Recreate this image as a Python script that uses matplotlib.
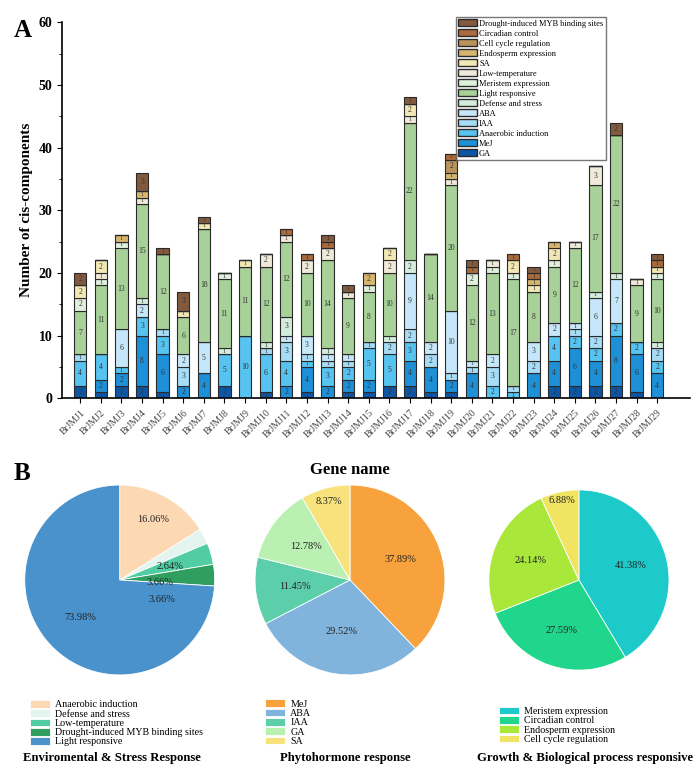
import numpy as np
import matplotlib
matplotlib.use('Agg')
import matplotlib.pyplot as plt
from matplotlib.patches import Patch

plt.rcParams['font.family'] = ['Liberation Serif', 'DejaVu Serif']

genes = ['BrJMJ%d' % i for i in range(1, 30)]

# stacked counts, bottom to top
categories = ['GA', 'MeJ', 'Anaerobic induction', 'IAA', 'ABA', 'Defense and stress',
              'Light responsive', 'Meristem expression', 'Low-temperature', 'SA',
              'Endosperm expression', 'Cell cycle regulation', 'Circadian control',
              'Drought-induced MYB binding sites']
GA        = [2,1,2,2,1,0,0,2,0,1,0,1,0,1,1,2,2,1,1,0,0,0,0,2,2,2,2,1,0]
MeJ       = [0,2,2,8,6,2,4,0,0,0,2,4,2,2,2,0,4,4,2,4,0,0,4,4,6,4,8,6,4]
Anaerobic = [4,4,1,3,3,0,0,5,10,6,4,1,3,2,5,5,3,0,0,0,2,1,0,4,2,2,2,2,2]
IAA       = [1,0,0,0,1,3,0,0,0,1,3,1,1,1,1,2,2,2,1,1,3,1,2,0,1,2,0,0,2]
ABA       = [0,0,6,2,0,2,5,0,0,0,1,3,1,1,0,0,9,2,10,1,2,0,3,2,1,6,7,0,0]
Defense   = [0,0,0,1,0,0,0,1,0,1,3,0,1,0,0,1,2,0,0,0,0,0,0,0,0,1,1,0,1]
Light     = [7,11,13,15,12,6,18,11,11,12,12,10,14,9,8,10,22,14,20,12,13,17,8,9,12,17,22,9,10]
Meristem  = [2,1,1,0,0,0,0,1,0,0,0,0,0,0,1,0,0,0,0,2,1,1,0,1,0,0,0,0,1]
LowTemp   = [0,1,0,1,0,0,0,0,0,2,1,2,2,1,0,2,1,0,1,0,1,0,0,0,1,3,0,1,0]
SA        = [2,2,0,0,0,1,1,0,1,0,0,0,0,0,0,2,2,0,0,0,0,2,1,2,0,0,0,0,1]
Endosperm = [0,0,1,1,0,0,0,0,0,0,0,0,0,0,2,0,0,0,1,0,0,0,1,1,0,0,0,0,0]
CellCycle = [0,0,0,0,0,0,0,0,0,0,0,0,0,0,0,0,0,0,2,0,0,0,0,0,0,0,0,0,0]
Circadian = [0,0,0,0,0,0,0,0,0,0,1,1,1,0,0,0,0,0,1,1,0,1,1,0,0,0,0,0,1]
Drought   = [2,0,0,3,1,3,1,0,0,0,0,0,1,1,0,0,1,0,0,1,0,0,1,0,0,0,2,0,1]
series = [GA, MeJ, Anaerobic, IAA, ABA, Defense, Light, Meristem, LowTemp, SA,
          Endosperm, CellCycle, Circadian, Drought]
colors = ['#0d56a6', '#1e90d8', '#56c3f0', '#a6dcf6', '#c6e7fa', '#d3ecdd', '#a8d199',
          '#dff0dc', '#efe9d9', '#f1e8b5', '#d6b66f', '#b8935b', '#a96a3c', '#825a3e']

# pie data
env_labels = ['Anaerobic induction', 'Defense and stress', 'Low-temperature',
              'Drought-induced MYB binding sites', 'Light responsive']
env_vals = [16.06, 2.64, 3.66, 3.66, 73.98]
env_colors = ['#fdd9b3', '#e4f5f0', '#52cca3', '#2f9e5e', '#4a92cc']
hor_labels = ['MeJ', 'ABA', 'IAA', 'GA', 'SA']
hor_vals = [37.89, 29.52, 11.45, 12.78, 8.37]
hor_colors = ['#f7a23c', '#80b4dc', '#5ccfaa', '#baf0b2', '#f8e27c']
grow_labels = ['Meristem expression', 'Circadian control', 'Endosperm expression',
               'Cell cycle regulation']
grow_vals = [41.38, 27.59, 24.14, 6.88]
grow_colors = ['#1ec9c9', '#1fd68c', '#a9e83a', '#f1e463']

fig = plt.figure(figsize=(7, 7.66), dpi=100)

# ---- A: stacked bars
ax = fig.add_axes([0.089, 0.480, 0.897, 0.491])
x = np.arange(len(genes))
bottom = np.zeros(len(genes))
for vals, c in zip(series, colors):
    vals = np.array(vals)
    ax.bar(x, vals, 0.6, bottom=bottom, color=c, edgecolor='#2a2a2a', linewidth=0.8)
    for xi, b, v in zip(x, bottom, vals):
        if v > 0:
            fs = 4.3 if v == 1 else 5.5
            ax.text(xi, b + v / 2, str(v), ha='center', va='center', fontsize=fs, color='#333333')
    bottom += vals

ax.set_xlim(-0.87, 29.6)
ax.set_ylim(0, 60)
ax.set_yticks(range(0, 61, 10))
ax.set_yticks(range(5, 60, 10), minor=True)
ax.set_xticks(x)
ax.set_xticklabels(genes, rotation=45, ha='right', rotation_mode='anchor', fontsize=7, color='#444444')
for t in ax.get_yticklabels():
    t.set_fontweight('bold')
    t.set_fontsize(10)
ax.set_ylabel('Number of cis-components', fontsize=11, fontweight='bold')
ax.spines['top'].set_visible(False)
ax.spines['right'].set_visible(False)
ax.spines['left'].set_linewidth(1.2)
ax.spines['bottom'].set_linewidth(1.2)

handles = [Patch(facecolor=c, edgecolor='#2a2a2a', label=l) for c, l in zip(colors, categories)]
ax.legend(handles[::-1], categories[::-1], loc='upper right', bbox_to_anchor=(0.872, 1.025),
          fontsize=6, handlelength=2.2, handleheight=0.9, labelspacing=0.2,
          borderpad=0.3, handletextpad=0.3, fancybox=False, edgecolor='#555555')

fig.text(0.02, 0.975, 'A', fontsize=18, fontweight='bold', va='top')
fig.text(0.02, 0.397, 'B', fontsize=18, fontweight='bold', va='top')
fig.text(0.5, 0.386, 'Gene name', fontsize=12, fontweight='bold', ha='center', va='center')

# ---- B: pies
def draw_pie(rect, vals, cols, labels, dists, leg_anchor, title, title_x):
    pax = fig.add_axes(rect)
    wedges, _, autot = pax.pie(vals, colors=cols, startangle=90, counterclock=False,
                               autopct='%.2f%%', pctdistance=0.6,
                               wedgeprops=dict(edgecolor='white', linewidth=0.6),
                               textprops=dict(fontsize=7.5, color='#222222'))
    for t, d in zip(autot, dists):
        if isinstance(d, tuple):
            t.set_position(d)
        else:
            px, py = t.get_position()
            t.set_position((px / 0.6 * d, py / 0.6 * d))
    pax.set_xlim(-1.01, 1.01)
    pax.set_ylim(-1.01, 1.01)
    pax.set_aspect('equal')
    fig.legend(wedges, labels, loc='upper left', bbox_to_anchor=leg_anchor, fontsize=7.2,
               frameon=False, handlelength=2.0, handleheight=0.8, labelspacing=0.0,
               handletextpad=0.5, borderpad=0)
    fig.text(title_x, 0.002, title, fontsize=9.2, fontweight='bold', ha='center', va='bottom')

draw_pie([0.034, 0.1175, 0.274, 0.2507], env_vals, env_colors, env_labels,
         [0.73, (0.53, 0.14), (0.42, -0.03), (0.45, -0.21), 0.57],
         (0.036, 0.0927), 'Enviromental & Stress Response', 0.160)
draw_pie([0.363, 0.1175, 0.274, 0.2507], hor_vals, hor_colors, hor_labels,
         [0.57, 0.55, 0.58, 0.58, 0.86],
         (0.372, 0.0935), 'Phytohormone response', 0.493)
draw_pie([0.697, 0.124, 0.26, 0.2376], grow_vals, grow_colors, grow_labels,
         [0.6, 0.59, 0.58, 0.9],
         (0.706, 0.084), 'Growth & Biological process responsive', 0.836)

fig.savefig('out.png', dpi=100)
